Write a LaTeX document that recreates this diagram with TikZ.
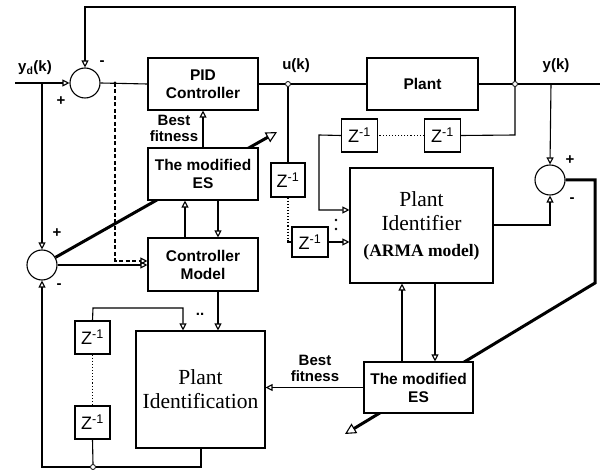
\documentclass[tikz,border=0pt]{standalone}
\usepackage{fontspec}
\setmainfont{Liberation Sans}
\newfontfamily\plantfont{Liberation Serif}
\usetikzlibrary{arrows.meta,positioning,calc}
\tikzset {
    box/.style={draw, fill=white, line width=1.1pt, align=center,
        font=\bfseries\fontsize{15.5}{18}\selectfont},
    bigbox/.style={draw, fill=white, line width=1.1pt, align=center,
        font=\plantfont\fontsize{21.5}{24}\selectfont},
    delay/.style={draw, fill=white, line width=1.1pt, minimum width=36pt,
        minimum height=33pt, inner sep=0pt, font=\fontsize{18}{18}\selectfont},
    summer/.style={circle, draw, line width=1.1pt, minimum size=30pt,
        inner sep=0pt},
    junction/.style={circle, draw, fill=white, line width=0.8pt,
        minimum size=5pt, inner sep=0pt},
    sign/.style={font=\bfseries\fontsize{15}{15}\selectfont, inner sep=0pt},
    signal/.style={font=\bfseries\fontsize{15}{16}\selectfont, inner sep=0pt,
        align=center},
    adapt/.style={line width=3pt},
    >={Triangle[open, length=7pt, width=7pt]},
    every path/.style={line width=1.1pt}
}
\newcommand{\zinv}{Z\textsuperscript{-1}}
\begin{document}
\begin{tikzpicture}[x=1pt, y=-1pt]
    \useasboundingbox (0,0) rectangle (600,470);

    % summing points and junctions
    \node[summer] (sumRef) at (85,83) {};
    \node[summer] (sumModel) at (42,265) {};
    \node[summer] (sumOut) at (550,180) {};
    \coordinate (ydIn) at (15,83);
    \coordinate (yOut) at (600,84);
    \coordinate (tapRef) at (42,83);
    \coordinate (tapDash) at (115,83);
    \coordinate (tapY) at (551,84);
    \coordinate (adaptTip1) at (277,132);
    \coordinate (adaptTip2) at (345,434);

    % adaptation signals (drawn under the ES boxes)
    \draw[adapt, -{Triangle[open, length=11pt, width=11pt, line width=1.1pt]}]
        (sumModel) -- (adaptTip1);
    \draw[adapt, -{Triangle[open, length=11pt, width=11pt, line width=1.1pt]}]
        (sumOut.east) -- (595,180) -- (595,283) -- (adaptTip2);

    % blocks
    \node[box, minimum width=110pt, minimum height=52pt] (pid) at (203,84)
        {PID\\Controller};
    \node[box, minimum width=111pt, minimum height=52pt] (plant) at (422.5,84)
        {Plant};
    \node[box, minimum width=110pt, minimum height=52pt] (modifiedES) at (203,174)
        {The modified\\ES};
    \node[box, minimum width=110pt, minimum height=53pt] (controllerModel)
        at (203,264.5) {Controller\\Model};
    \node[bigbox, minimum width=129pt, minimum height=117pt] (identification)
        at (200.5,389.5) {Plant\\Identification};
    \node[bigbox, minimum width=143pt, minimum height=115pt] (identifier)
        at (421.5,225.5) {Plant\\Identifier\\[2pt]{\bfseries\fontsize{17.5}{20}\selectfont(ARMA model)}};
    \node[box, minimum width=109pt, minimum height=51pt] (modifiedESid)
        at (418.5,387.5) {The modified\\ES};

    \node[junction] (juncU) at (288,84) {};
    \node[junction] (juncY) at (515,84) {};
    \node[junction] (juncBottom) at (93,467) {};

    % delay lines
    \node[delay] (delayA) at (359.5,135.5) {\zinv};
    \node[delay] (delayB) at (442.5,135.5) {\zinv};
    \node[delay, minimum width=34pt, minimum height=34pt] (delayC) at (288,180) {\zinv};
    \node[delay, minimum height=30pt] (delayD) at (310,242) {\zinv};
    \node[delay, minimum width=35pt] (delayE) at (92.5,337.5) {\zinv};
    \node[delay, minimum width=35pt] (delayF) at (92.5,422.5) {\zinv};

    % labels
    \node[signal] (ydLabel) at (35,68) {y\textsubscript{d}(k)};
    \node[signal] (uLabel) at (296,66) {u(k)};
    \node[signal] (yLabel) at (556,66) {y(k)};
    \node[signal] (bestPid) at (174,128) {Best\\fitness};
    \node[signal] (bestId) at (315,368) {Best\\fitness};
    \node[sign] at (61,101) {+};
    \node[sign] at (102,63) {-};
    \node[sign] at (57,233) {+};
    \node[sign] at (59,286) {-};
    \node[sign] at (570,160) {+};
    \node[sign] at (572,200) {-};
    \node[sign] at (200,314) {..};
    \fill (336,220) circle (1.3pt) (336,229) circle (1.3pt);

    % main loop
    \draw[->] (ydIn) -- (sumRef.west);
    \draw (sumRef.east) -- (pid.west);
    \draw (pid.east) -- (juncU.west);
    \draw (juncU.east) -- (plant.west);
    \draw (plant.east) -- (juncY.west);
    \draw (juncY.east) -- (yOut);
    \draw[->] (juncY.north) -- (515,7) -- (85,7) -- (sumRef.north);

    % controller model loop
    \draw[->] (tapRef) -- (sumModel.north);
    \fill (tapDash) circle (1.5pt);
    \draw[dash pattern=on 4pt off 2.5pt, ->] (tapDash) -- (115,261)
        -- (controllerModel.west |- 0,261);
    \draw[->] (sumModel.east) -- (controllerModel.west |- 0,265);
    \draw[->] (modifiedES.north) -- (pid.south);
    \draw[->] (controllerModel.north -| 185,0) -- (modifiedES.south -| 185,0);
    \draw[->] (modifiedES.south -| 218,0) -- (controllerModel.north -| 218,0);
    \draw[->] (controllerModel.south -| 218,0) -- (identification.north -| 218,0);
    \draw[->] (delayE.north) -- (93,308) -- (183,308) -- (identification.north -| 183,0);
    \draw[dotted, line width=1.6pt] (delayE.south) -- (delayF.north);
    \draw (delayF.south) -- (juncBottom.north);
    \draw (identification.south -| 201,0) -- (201,467) -- (juncBottom.east);
    \draw[->] (juncBottom.west) -- (42,467) -- (sumModel.south);

    % identifier loop
    \draw (juncU.south) -- (delayC.north);
    \draw[dotted, line width=1.6pt] (delayC.south) -- (288,240);
    \draw (288,240) -- (288,242) -- (delayD.west);
    \draw[->] (delayD.east) -- (identifier.west |- delayD.east);
    \draw (juncY.south) -- (515,135) -- (delayB.east);
    \draw[dotted, line width=1.6pt] (delayB.west) -- (delayA.east);
    \draw[->] (delayA.west) -- (319,135) -- (319,210) -- (identifier.west |- 0,210);
    \draw[->] (tapY) -- (sumOut.north);
    \draw[->] (identifier.east |- 0,225) -- (550,225) -- (sumOut.south);
    \draw[->] (modifiedESid.north -| 402,0) -- (identifier.south -| 402,0);
    \draw[->] (identifier.south -| 435,0) -- (modifiedESid.north -| 435,0);
    \draw[->] (modifiedESid.west) -- (identification.east |- modifiedESid.west);

\end{tikzpicture}
\end{document}
